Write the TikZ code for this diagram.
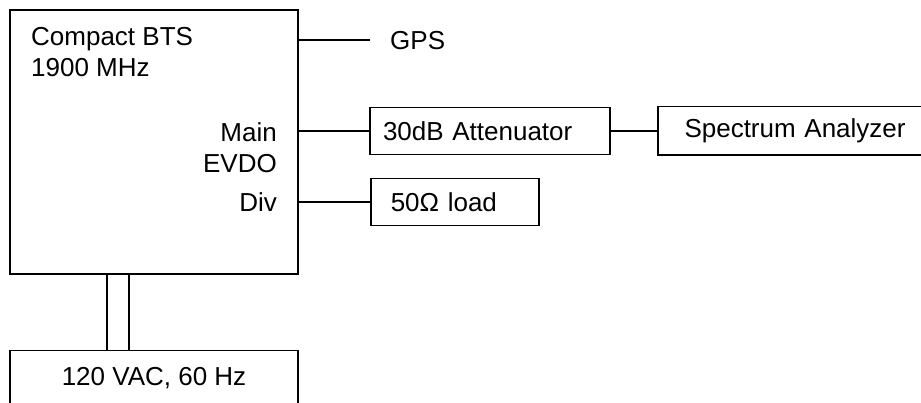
\documentclass[tikz,border=0pt]{standalone}
\usepackage{fontspec}
\setmainfont{Liberation Sans}
\usetikzlibrary{positioning, calc}

\begin{document}
\begin{tikzpicture}[
    x=1pt, y=1pt,
    every node/.style={font=\fontsize{26}{31}\selectfont, inner sep=0pt},
    unit/.style={rectangle, draw, line width=1.5pt, minimum height=47pt, align=left},
    wire/.style={line width=1.5pt}
]
\useasboundingbox (0,0) rectangle (921,402);
\clip (0,0) rectangle (921,402);
\node[unit, minimum width=288pt, minimum height=264pt] (bts) at (154,260) {};
\node[anchor=base west, align=left] (btsname) at (31,325) {Compact BTS\\1900 MHz};
\node[anchor=base east] (main) at (277,260) {Main};
\node[anchor=base east] (evdo) at (277,229) {EVDO};
\node[anchor=base east] (div) at (277,190) {Div};
\node[anchor=west] (gps) at (390,361) {GPS};
\coordinate (gpsend) at (370,362);
\node[unit, text width=214pt, inner xsep=13pt] (att) at (490,271) {30dB Attenuator};
\node[unit, draw=none, text width=248pt, inner xsep=26pt, right=47pt of att] (sa) {Spectrum Analyzer};
\node[unit, text width=128pt, inner xsep=20pt, anchor=west] (load) at (370,200) {50Ω load};
\node[unit, minimum width=288pt, minimum height=55pt, align=center] (power) at (154,24) {120 VAC, 60 Hz};
% analyzer box runs past the right edge
\draw[wire] (sa.north east) -- (sa.north west) -- (sa.south west) -- (sa.south east);
\draw[wire] (bts.east |- gpsend) -- (gpsend);
\draw[wire] (bts.east |- att.west) -- (att.west);
\draw[wire] (att) -- (sa);
\draw[wire] (bts.east |- load.west) -- (load.west);
\draw[wire] ([xshift=-47pt]bts.south) -- ([xshift=-47pt]power.north);
\draw[wire] ([xshift=-25pt]bts.south) -- ([xshift=-25pt]power.north);
\end{tikzpicture}
\end{document}
